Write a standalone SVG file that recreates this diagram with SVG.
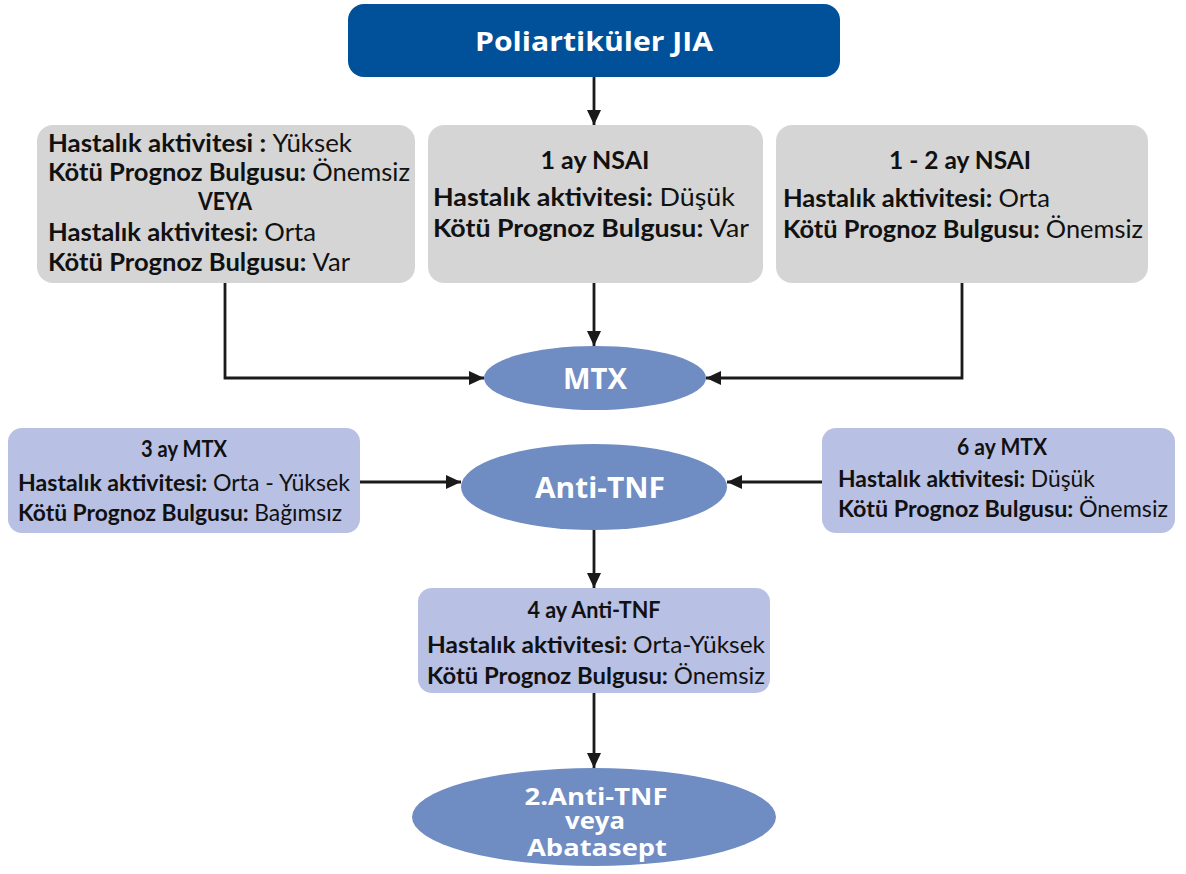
<svg xmlns="http://www.w3.org/2000/svg" width="1186" height="874" viewBox="0 0 1186 874">
<defs>
<marker id="arr" markerUnits="userSpaceOnUse" markerWidth="16" markerHeight="14" refX="15" refY="7" orient="auto">
<path d="M0,0 L15,7 L0,14 Z" fill="#1a1a1a"/>
</marker>
<style>
.grey{fill:#d5d5d5}
.lblue{fill:#b8c0e3}
.ell{fill:#6f8cc3}
.t{font-family:Lato,"Open Sans","Liberation Sans",sans-serif;fill:#111;font-size:25px}
.s{font-size:23px}
.b{font-weight:bold}
.w{font-family:"Open Sans","Liberation Sans",sans-serif;font-weight:bold;fill:#fff;text-anchor:middle}
.c{stroke:#1a1a1a;stroke-width:2.8;fill:none;marker-end:url(#arr)}
</style>
</defs>
<rect width="1186" height="874" fill="#fff"/>

<g id="connectors">
<path class="c" d="M594 77 V125"/>
<path class="c" d="M225 283 V378 H484"/>
<path class="c" d="M594 283 V346"/>
<path class="c" d="M962 283 V378 H706"/>
<path class="c" d="M360 482 H461"/>
<path class="c" d="M822 482 H727"/>
<path class="c" d="M594 530 V588"/>
<path class="c" d="M594 693 V768"/>
</g>

<g id="poliartikuler">
<rect x="348" y="4" width="492" height="73" rx="16" fill="#00509a"/>
<text class="w" x="594" y="51" font-size="27" textLength="238" lengthAdjust="spacingAndGlyphs">Poliartiküler JIA</text>
</g>

<g id="left-grey">
<rect class="grey" x="37" y="125" width="378" height="158" rx="16"/>
<text class="t" x="48" y="152" textLength="304" lengthAdjust="spacingAndGlyphs"><tspan class="b">Hastalık aktivitesi : </tspan>Yüksek</text>
<text class="t" x="48" y="181" textLength="362" lengthAdjust="spacingAndGlyphs"><tspan class="b">Kötü Prognoz Bulgusu: </tspan>Önemsiz</text>
<text class="t b" x="225" y="210" text-anchor="middle" textLength="54" lengthAdjust="spacingAndGlyphs">VEYA</text>
<text class="t" x="48" y="241" textLength="268" lengthAdjust="spacingAndGlyphs"><tspan class="b">Hastalık aktivitesi: </tspan>Orta</text>
<text class="t" x="48" y="271" textLength="302" lengthAdjust="spacingAndGlyphs"><tspan class="b">Kötü Prognoz Bulgusu: </tspan>Var</text>
</g>

<g id="mid-grey">
<rect class="grey" x="428" y="125" width="335" height="158" rx="16"/>
<text class="t b" x="595" y="169" text-anchor="middle" textLength="109" lengthAdjust="spacingAndGlyphs">1 ay NSAI</text>
<text class="t" x="433" y="206" textLength="302" lengthAdjust="spacingAndGlyphs"><tspan class="b">Hastalık aktivitesi: </tspan>Düşük</text>
<text class="t" x="433" y="237" textLength="316" lengthAdjust="spacingAndGlyphs"><tspan class="b">Kötü Prognoz Bulgusu: </tspan>Var</text>
</g>

<g id="right-grey">
<rect class="grey" x="776" y="125" width="372" height="158" rx="16"/>
<text class="t b" x="960" y="169" text-anchor="middle" textLength="142" lengthAdjust="spacingAndGlyphs">1 - 2 ay NSAI</text>
<text class="t" x="783" y="207" textLength="267" lengthAdjust="spacingAndGlyphs"><tspan class="b">Hastalık aktivitesi: </tspan>Orta</text>
<text class="t" x="783" y="238" textLength="360" lengthAdjust="spacingAndGlyphs"><tspan class="b">Kötü Prognoz Bulgusu: </tspan>Önemsiz</text>
</g>

<g id="mtx">
<ellipse class="ell" cx="595" cy="378" rx="111" ry="32"/>
<text class="w" x="595" y="389" font-size="29" textLength="64" lengthAdjust="spacingAndGlyphs">MTX</text>
</g>

<g id="left-blue">
<rect class="lblue" x="8" y="428" width="352" height="105" rx="14"/>
<text class="t s b" x="184" y="457" text-anchor="middle" textLength="86" lengthAdjust="spacingAndGlyphs">3 ay MTX</text>
<text class="t s" x="18" y="491" textLength="332" lengthAdjust="spacingAndGlyphs"><tspan class="b">Hastalık aktivitesi: </tspan>Orta - Yüksek</text>
<text class="t s" x="18" y="521" textLength="324" lengthAdjust="spacingAndGlyphs"><tspan class="b">Kötü Prognoz Bulgusu: </tspan>Bağımsız</text>
</g>

<g id="anti-tnf">
<ellipse class="ell" cx="594" cy="487" rx="133" ry="43"/>
<text class="w" x="600" y="498" font-size="29" textLength="130" lengthAdjust="spacingAndGlyphs">Anti-TNF</text>
</g>

<g id="right-blue">
<rect class="lblue" x="822" y="428" width="353" height="105" rx="14"/>
<text class="t s b" x="1002" y="455" text-anchor="middle" textLength="90" lengthAdjust="spacingAndGlyphs">6 ay MTX</text>
<text class="t s" x="838" y="487" textLength="257" lengthAdjust="spacingAndGlyphs"><tspan class="b">Hastalık aktivitesi: </tspan>Düşük</text>
<text class="t s" x="838" y="517" textLength="330" lengthAdjust="spacingAndGlyphs"><tspan class="b">Kötü Prognoz Bulgusu: </tspan>Önemsiz</text>
</g>

<g id="four-ay">
<rect class="lblue" x="418" y="588" width="352" height="105" rx="14"/>
<text class="t s b" x="594" y="618" text-anchor="middle" textLength="133" lengthAdjust="spacingAndGlyphs">4 ay Anti-TNF</text>
<text class="t s" x="427" y="653" textLength="338" lengthAdjust="spacingAndGlyphs"><tspan class="b">Hastalık aktivitesi: </tspan>Orta-Yüksek</text>
<text class="t s" x="427" y="684" textLength="338" lengthAdjust="spacingAndGlyphs"><tspan class="b">Kötü Prognoz Bulgusu: </tspan>Önemsiz</text>
</g>

<g id="second-anti-tnf">
<ellipse class="ell" cx="594" cy="817" rx="182" ry="49"/>
<text class="w" x="596" y="805" font-size="23" textLength="143" lengthAdjust="spacingAndGlyphs">2.Anti-TNF</text>
<text class="w" x="595" y="829" font-size="23" textLength="60" lengthAdjust="spacingAndGlyphs">veya</text>
<text class="w" x="597" y="856" font-size="23" textLength="140" lengthAdjust="spacingAndGlyphs">Abatasept</text>
</g>
</svg>
